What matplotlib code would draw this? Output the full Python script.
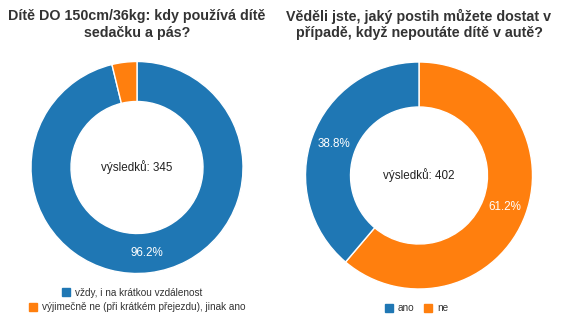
import matplotlib
matplotlib.use("Agg")
import matplotlib.pyplot as plt
from matplotlib.patches import Patch

plt.rcParams['font.family'] = ['Liberation Sans', 'DejaVu Sans']

# ---- data ----
left_title = "Dítě DO 150cm/36kg: kdy používá dítě\nsedačku a pás?"
left_labels = ["vždy, i na krátkou vzdálenost",
               "výjimečně ne (při krátkém přejezdu), jinak ano"]
left_values = [96.2, 3.8]
left_n = 345

right_title = "Věděli jste, jaký postih můžete dostat v\npřípadě, když nepoutáte dítě v autě?"
right_labels = ["ano", "ne"]
right_values = [38.8, 61.2]
right_n = 402

BLUE = "#1f77b4"
ORANGE = "#ff7f0e"
TEXT = "#333333"

W, H = 582, 334
fig = plt.figure(figsize=(W / 100, H / 100), dpi=100)
ax = fig.add_axes([0, 0, 1, 1])


def pct_fmt(p):
    return f"{p:.1f}%" if p >= 5 else ""


def donut(values, colors, center, r_out, r_in, n):
    mid = (r_out + r_in) / 2 / r_out
    wedges, texts, autotexts = ax.pie(
        values, colors=colors, center=center, radius=r_out,
        startangle=90, counterclock=False, autopct=pct_fmt,
        pctdistance=mid, frame=True,
        wedgeprops=dict(width=r_out - r_in, edgecolor='white', linewidth=1),
        textprops=dict(color='white', fontsize=8.4))
    ax.text(center[0], center[1], f"výsledků: {n}", ha='center', va='center',
            fontsize=8.4, color='#222222')
    return wedges


# Left donut: largest slice first clockwise from 12 o'clock
lc = (137, H - 167.5)
donut(left_values, [BLUE, ORANGE], lc, 106, 66, left_n)

# Right donut: largest slice (ne) first
rc = (419, H - 175.5)
donut(right_values[::-1], [ORANGE, BLUE], rc, 113.5, 68.5, right_n)

ax.set_xlim(0, W)
ax.set_ylim(0, H)
ax.set_aspect('equal')
ax.axis('off')

# Titles
ax.text(lc[0], H - 24.5, left_title, ha='center', va='center', fontsize=10.3,
        fontweight='bold', color=TEXT, linespacing=1.25, multialignment='center')
ax.text(rc[0], H - 24.5, right_title, ha='center', va='center', fontsize=10.3,
        fontweight='bold', color=TEXT, linespacing=1.25, multialignment='center')

# Legends
common = dict(frameon=False, fontsize=7.2, handlelength=0.85, handleheight=0.85,
              handletextpad=0.5, borderpad=0, borderaxespad=0,
              labelcolor=TEXT)
leg1 = ax.legend(handles=[Patch(color=BLUE, label=left_labels[0])],
                 loc='center', bbox_to_anchor=(132 / W, (H - 292.5) / H), **common)
ax.add_artist(leg1)
leg2 = ax.legend(handles=[Patch(color=ORANGE, label=left_labels[1])],
                 loc='center', bbox_to_anchor=(137 / W, (H - 307) / H), **common)
ax.add_artist(leg2)
leg3 = ax.legend(handles=[Patch(color=BLUE, label=right_labels[0]),
                          Patch(color=ORANGE, label=right_labels[1])],
                 loc='center', ncol=2, columnspacing=0.9,
                 bbox_to_anchor=(416.5 / W, (H - 308) / H), **common)

fig.savefig("out.png", dpi=100, facecolor='white')
